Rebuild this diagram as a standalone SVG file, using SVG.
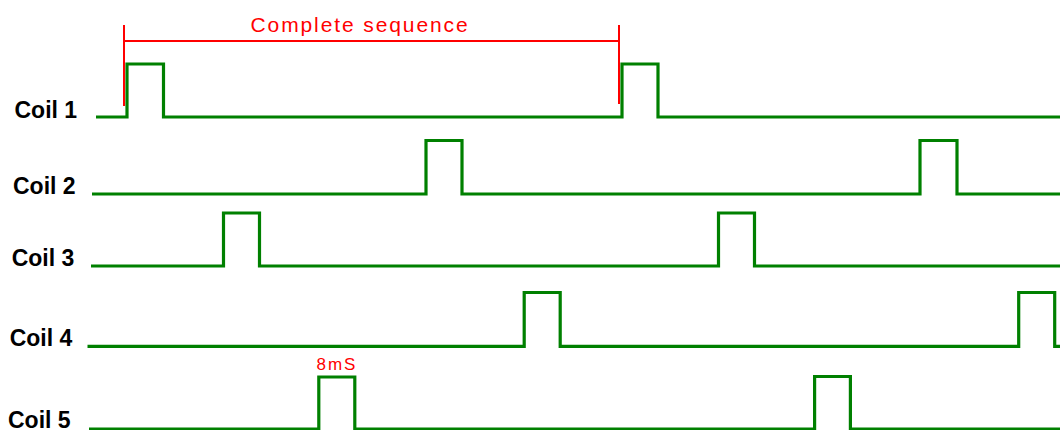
<svg xmlns="http://www.w3.org/2000/svg" width="1060" height="430" viewBox="0 0 1060 430">
  <style>
    .wave { fill: none; stroke: #008000; stroke-width: 3.2; stroke-linejoin: miter; stroke-linecap: butt; }
    .label { font-family: "Liberation Sans", Arial, sans-serif; font-weight: bold; font-size: 23px; fill: #000000; }
    .ann { fill: none; stroke: #ff0000; stroke-width: 2; }
    .anntext { font-family: "Liberation Sans", Arial, sans-serif; fill: #ff0000; }
  </style>
  <rect x="0" y="0" width="1060" height="430" fill="#ffffff"/>
  <g id="coil1">
    <text class="label" x="14.5" y="118">Coil 1</text>
    <path class="wave" d="M96,117 H127 V64 H163.5 V117 H622 V64 H658 V117 H1060"/>
  </g>
  <g id="coil2">
    <text class="label" x="13" y="194">Coil 2</text>
    <path class="wave" d="M92,194 H426 V140.5 H462 V194 H920 V140.5 H957 V194 H1060"/>
  </g>
  <g id="coil3">
    <text class="label" x="11.7" y="266">Coil 3</text>
    <path class="wave" d="M91,266 H223.5 V213 H259.5 V266 H718.5 V213 H754.5 V266 H1060"/>
  </g>
  <g id="coil4">
    <text class="label" x="9.7" y="346">Coil 4</text>
    <path class="wave" d="M87.5,346.3 H524.2 V292.5 H560.2 V346.3 H1018.7 V292.5 H1054.7 V346.3 H1060"/>
  </g>
  <g id="coil5">
    <text class="label" x="8" y="428">Coil 5</text>
    <path class="wave" d="M89,429 H318.8 V377 H354.8 V429 H814.6 V376.5 H850.4 V429 H1060"/>
  </g>
  <g id="annotations">
    <path class="ann" d="M124,25 V106 M124,41 H619 M619,25 V104"/>
    <text class="anntext" x="250.5" y="31.5" font-size="21" letter-spacing="1.9">Complete sequence</text>
    <text class="anntext" x="316.5" y="370" font-size="17" letter-spacing="2">8mS</text>
  </g>
</svg>
